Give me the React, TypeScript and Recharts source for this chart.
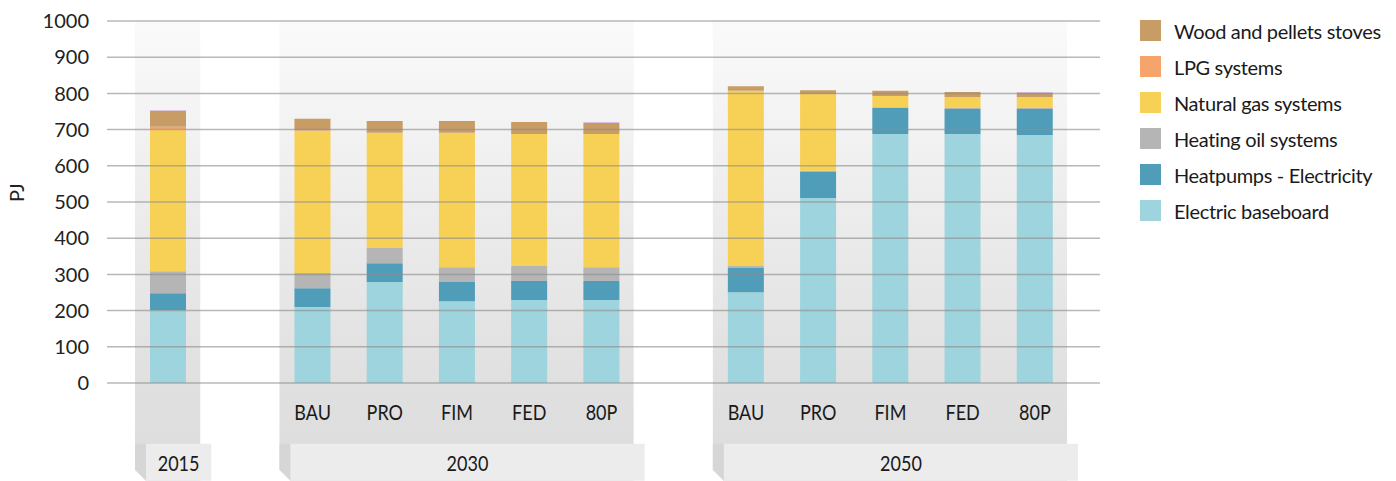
import { BarChart, Bar, XAxis, YAxis, ReferenceArea, ReferenceLine } from "recharts";

// x slots: 2015 | gap | 2030 scenarios | gap | 2050 scenarios
const slotLabels = ["", "", "BAU", "PRO", "FIM", "FED", "80P", "", "BAU", "PRO", "FIM", "FED", "80P"];
const yTicks = [0, 100, 200, 300, 400, 500, 600, 700, 800, 900, 1000];

// PJ per heating technology
const electric = [202, null, 210, 279, 226, 229, 229, null, 251, 511, 688, 688, 685];
const heatpumps = [46, null, 52, 52, 53, 53, 53, null, 67, 72, 72, 69, 72];
const heatingOil = [61, null, 42, 42, 41, 41, 38, null, 5, 3, 2, 3, 3];
const naturalGas = [393, null, 393, 318, 371, 365, 368, null, 484, 212, 31, 30, 30];
const lpg = [6, null, 1, 0, 0, 0, 0, null, 0, 0, 0, 0, 0];
const wood = [44, null, 32, 33, 33, 33, 30, null, 13, 11, 14, 14, 11];
const other = [2, null, 0, 0, 0, 0, 3, null, 0, 0, 0, 0, 3];

const series = [
  { key: "electric", name: "Electric baseboard", color: "#9dd4dd", values: electric },
  { key: "heatpumps", name: "Heatpumps - Electricity", color: "#4f9db8", values: heatpumps },
  { key: "oil", name: "Heating oil systems", color: "#b5b5b5", values: heatingOil },
  { key: "gas", name: "Natural gas systems", color: "#f7d155", values: naturalGas },
  { key: "lpg", name: "LPG systems", color: "#f5a46c", values: lpg },
  { key: "wood", name: "Wood and pellets stoves", color: "#c89c65", values: wood },
  { key: "other", name: "", color: "#d8bfe0", values: other },
];

const data = slotLabels.map((label, i) => {
  const row: Record<string, any> = { id: "c" + i, label };
  series.forEach((s) => (row[s.key] = s.values[i]));
  return row;
});

// narrow label text (the original uses a condensed face)
const NarrowText = ({ x, y, children }: { x: number; y: number; children: any }) => (
  <text transform={`translate(${x},${y}) scale(0.82,1)`} textAnchor="middle" fontSize={22} fill="#1a1a1a" fontFamily="Lato, sans-serif">
    {children}
  </text>
);

const ScenarioTick = (props: any) => {
  const { x, y, index } = props;
  return <NarrowText x={x} y={y + 17}>{slotLabels[index]}</NarrowText>;
};

// grey "box" behind each year group, with the year label on its front face
const panelShape = (label: string, id: string) => (props: any) => {
  const { x, y, width, height } = props;
  const bx = x + 3;
  const bw = width - 7;
  const bottom = y + height;
  const fx = bx + 11;
  const fTop = bottom - 37;
  return (
    <g>
      <defs>
        <linearGradient id={id} x1="0" y1="0" x2="0" y2="1">
          <stop offset="0%" stopColor="#fafafa" />
          <stop offset="75%" stopColor="#e1e1e1" />
          <stop offset="100%" stopColor="#dcdcdc" />
        </linearGradient>
      </defs>
      <path d={`M${bx},${y} H${bx + bw} V${bottom} H${fx} L${bx},${bottom - 11} Z`} fill={`url(#${id})`} />
      <path d={`M${bx},${fTop} H${fx} V${bottom} L${bx},${bottom - 11} Z`} fill="#d6d6d6" />
      <rect x={fx} y={fTop} width={bw} height={37} fill="#ececec" />
      <NarrowText x={fx + bw / 2} y={bottom - 10}>{label}</NarrowText>
    </g>
  );
};

export default function App() {
  const legendItems = series.filter((s) => s.name).reverse();
  return (
    <div style={{ position: "absolute", left: 0, top: 0, width: 1396, height: 481, fontFamily: "Lato, sans-serif", background: "#fff" }}>
      <BarChart width={1396} height={481} data={data} margin={{ top: 21, right: 296, bottom: 38, left: 7 }}>
        <ReferenceArea x1="c0" x2="c0" y1={-270} y2={1000} ifOverflow="visible" shape={panelShape("2015", "pg0")} />
        <ReferenceArea x1="c2" x2="c6" y1={-270} y2={1000} ifOverflow="visible" shape={panelShape("2030", "pg1")} />
        <ReferenceArea x1="c8" x2="c12" y1={-270} y2={1000} ifOverflow="visible" shape={panelShape("2050", "pg2")} />
        <XAxis
          dataKey="id"
          height={60}
          interval={0}
          axisLine={false}
          tickLine={false}
          tickSize={0}
          tickMargin={20}
          padding={{ left: 25, right: 29 }}
          tick={<ScenarioTick />}
        />
        <YAxis
          width={100}
          domain={[0, 1000]}
          ticks={yTicks}
          interval={0}
          axisLine={false}
          tickLine={false}
          tickSize={0}
          tickMargin={18}
          tick={{ fontSize: 20, fill: "#222", fontFamily: "Lato, sans-serif" }}
          label={{ value: "PJ", angle: -90, position: "insideLeft", offset: 10, fontSize: 20, fill: "#222", fontFamily: "Lato, sans-serif" }}
        />
        {series.map((s) => (
          <Bar key={s.key} dataKey={s.key} name={s.name} stackId="a" fill={s.color} barSize={36} isAnimationActive={false} />
        ))}
        {yTicks.map((t) => (
          <ReferenceLine key={t} y={t} stroke="#8c8c8c" strokeOpacity={0.62} strokeWidth={1.5} />
        ))}
      </BarChart>
      <div style={{ position: "absolute", left: 1140, top: 20 }}>
        {legendItems.map((s) => (
          <div key={s.key} style={{ display: "flex", alignItems: "center", height: 21, marginBottom: 15 }}>
            <div style={{ width: 21, height: 21, background: s.color, marginRight: 13 }} />
            <span style={{ fontSize: 20, letterSpacing: -0.35, color: "#1a1a1a", whiteSpace: "nowrap" }}>{s.name}</span>
          </div>
        ))}
      </div>
    </div>
  );
}
